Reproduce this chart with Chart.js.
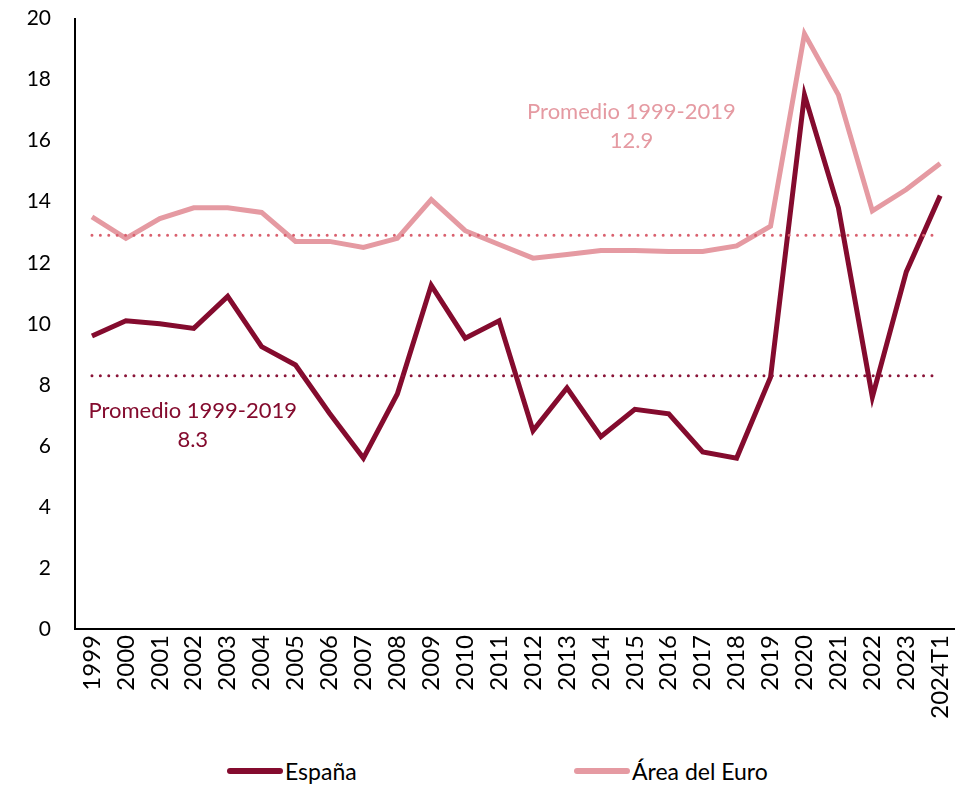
<!DOCTYPE html>
<html>
<head>
<meta charset="utf-8">
<script src="https://cdn.jsdelivr.net/npm/chart.js@4"></script>
<style>
  html, body { margin: 0; padding: 0; background: #fff; }
  #wrap { width: 955px; height: 789px; position: relative; overflow: hidden; font-family: Lato, "Open Sans", sans-serif; }
  #box { width: 975px; height: 763px; position: absolute; top: -18px; left: 0; }
  #legend { position: absolute; top: 757px; left: 0; width: 955px; height: 32px; font-size: 23px; color: #000; }
  .item { position: absolute; top: 0; display: flex; align-items: center; }
  .sw { width: 56px; height: 6px; border-radius: 3px; margin-right: 2px; }
</style>
</head>
<body>
<div id="wrap">
  <div id="box"><canvas id="chart"></canvas></div>
  <div id="legend">
    <div class="item" style="left:227px"><span class="sw" style="background:#840b2e"></span>España</div>
    <div class="item" style="left:574px"><span class="sw" style="background:#e59aa2"></span>Área del Euro</div>
  </div>
</div>
<script>
// datos
const years = ["1999","2000","2001","2002","2003","2004","2005","2006","2007","2008","2009","2010","2011",
  "2012","2013","2014","2015","2016","2017","2018","2019","2020","2021","2022","2023","2024T1"];
const espana = [9.6, 10.1, 10.0, 9.85, 10.9, 9.25, 8.65, 7.07, 5.6, 7.7, 11.26, 9.53, 10.1,
  6.5, 7.9, 6.3, 7.2, 7.05, 5.8, 5.6, 8.25, 17.5, 13.8, 7.6, 11.7, 14.2];
const euro = [13.5, 12.8, 13.45, 13.8, 13.8, 13.65, 12.7, 12.7, 12.5, 12.8, 14.07, 13.05, 12.6,
  12.15, 12.27, 12.4, 12.4, 12.37, 12.37, 12.55, 13.2, 19.5, 17.5, 13.7, 14.4, 15.25];
const promedioEspana = 8.3;
const promedioEuro = 12.9;
const yTicks = [0, 2, 4, 6, 8, 10, 12, 14, 16, 18, 20];

const C_ES = "#840b2e";
const C_EU = "#e59aa2";
const C_ES_AVG = "#8a1438";
const C_EU_AVG = "#d9606e";
const FONT = "Lato, 'Open Sans', sans-serif";

// etiquetas "Promedio" en coordenadas de datos
const notas = {
  id: "notas",
  afterDatasetsDraw(chart){
    const { ctx, scales: { x, y } } = chart;
    ctx.save();
    ctx.font = "22px " + FONT;
    ctx.textAlign = "center";
    ctx.textBaseline = "middle";
    const put = (idx, val, lines, color) => {
      const px = x.getPixelForValue(idx);
      const py = y.getPixelForValue(val);
      ctx.fillStyle = color;
      lines.forEach((t, i) => ctx.fillText(t, px, py + i * 29));
    };
    put(15.9, 16.95, ["Promedio 1999-2019", String(promedioEuro)], C_EU);
    put(2.97, 7.14, ["Promedio 1999-2019", String(promedioEspana)], C_ES);
    ctx.restore();
  }
};

const avgLine = (val, color) => ({
  data: [{ x: years[0], y: val }, { x: years[years.length - 1], y: val }],
  borderColor: color,
  borderWidth: 3,
  borderDash: [0, 8.4],
  borderCapStyle: "round",
  pointRadius: 0,
  fill: false
});

new Chart(document.getElementById("chart"), {
  type: "line",
  data: {
    labels: years,
    datasets: [
      avgLine(promedioEuro, C_EU_AVG),
      avgLine(promedioEspana, C_ES_AVG),
      { label: "Área del Euro", data: euro, borderColor: C_EU, borderWidth: 5, pointRadius: 0, tension: 0, borderJoinStyle: "miter" },
      { label: "España", data: espana, borderColor: C_ES, borderWidth: 5, pointRadius: 0, tension: 0, borderJoinStyle: "miter" }
    ]
  },
  options: {
    responsive: true,
    maintainAspectRatio: false,
    animation: false,
    layout: { padding: { top: 0, right: 0, left: 0, bottom: 0 } },
    plugins: { legend: { display: false }, tooltip: { enabled: false } },
    scales: {
      x: {
        offset: true,
        grid: { display: false, drawTicks: false },
        border: { color: "#000", width: 2 },
        ticks: { color: "#000", font: { family: FONT, size: 24 }, maxRotation: 90, minRotation: 90, autoSkip: false, padding: 6 },
        afterFit(s){ s.height = 116; }
      },
      y: {
        min: 0, max: 20,
        afterBuildTicks(s){ s.ticks = yTicks.map(v => ({ value: v })); },
        grid: { display: false, drawTicks: false },
        border: { color: "#000", width: 2 },
        ticks: { color: "#000", font: { family: FONT, size: 21 }, padding: 24 },
        afterFit(s){ s.width = 75; }
      }
    }
  },
  plugins: [notas]
});
</script>
</body>
</html>
